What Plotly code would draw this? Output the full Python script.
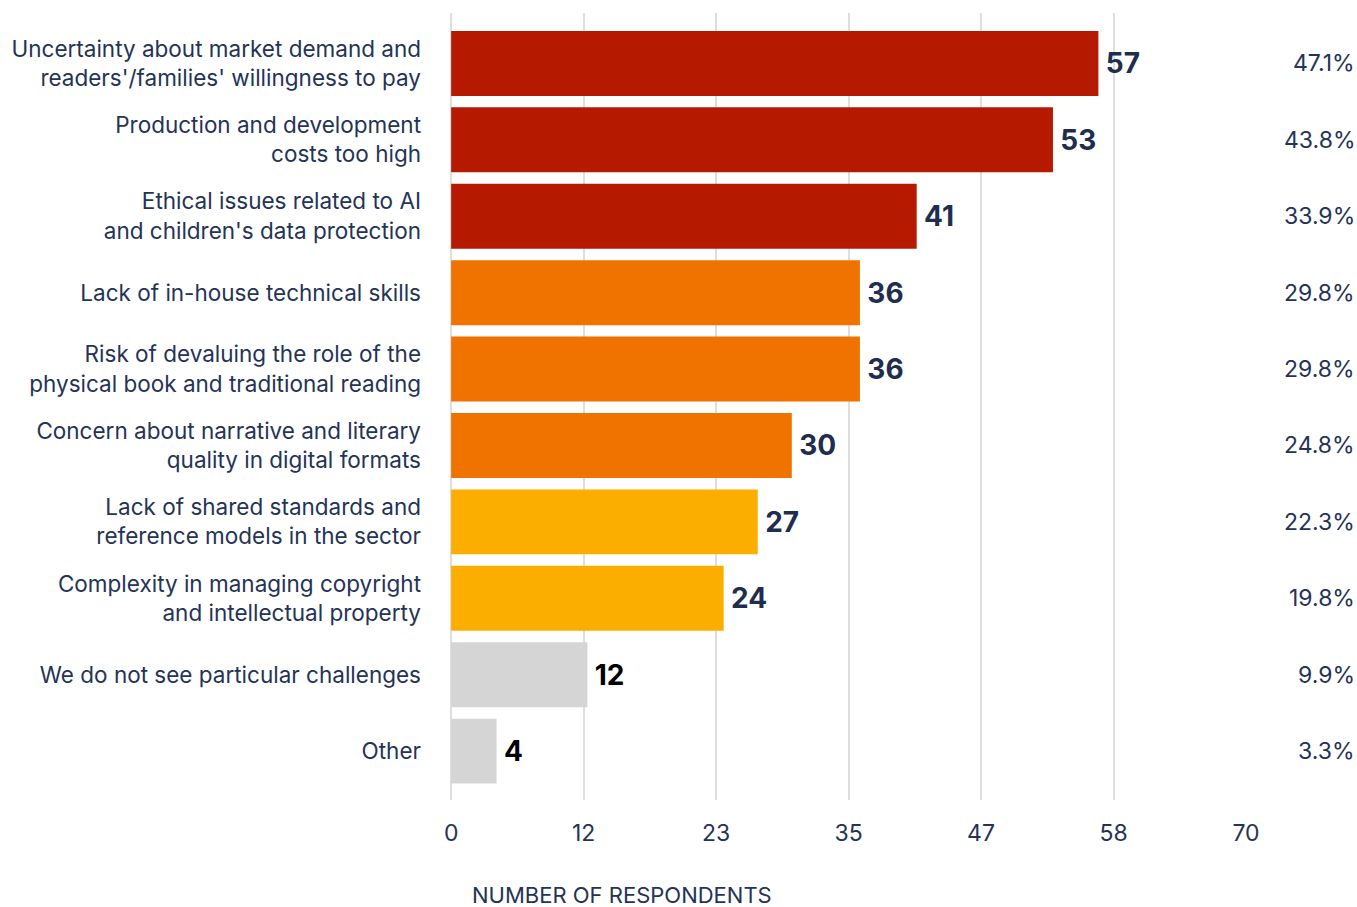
import plotly.graph_objects as go

# Survey: main challenges (number of respondents, multiple answers allowed)
categories = [
    "Uncertainty about market demand and<br>readers'/families' willingness to pay",
    "Production and development<br>costs too high",
    "Ethical issues related to AI<br>and children's data protection",
    "Lack of in-house technical skills",
    "Risk of devaluing the role of the<br>physical book and traditional reading",
    "Concern about narrative and literary<br>quality in digital formats",
    "Lack of shared standards and<br>reference models in the sector",
    "Complexity in managing copyright<br>and intellectual property",
    "We do not see particular challenges",
    "Other",
]
respondents = [57, 53, 41, 36, 36, 30, 27, 24, 12, 4]
share_pct = [47.1, 43.8, 33.9, 29.8, 29.8, 24.8, 22.3, 19.8, 9.9, 3.3]
tier = ["high", "high", "high", "mid", "mid", "mid", "low", "low", "none", "none"]

tick_vals = [0, 70 / 6, 140 / 6, 35, 280 / 6, 350 / 6, 70]
tick_text = ["0", "12", "23", "35", "47", "58", "70"]

BAR_COLORS = {"high": "#B51A00", "mid": "#F07300", "low": "#FBAE00", "none": "#D5D5D5"}
LABEL_COLORS = {"high": "#1F2D4F", "mid": "#1F2D4F", "low": "#1F2D4F", "none": "#000000"}
NAVY = "#243356"
FONT = "Inter, Lato, sans-serif"

y_pos = list(range(len(categories)))

fig = go.Figure()
fig.add_trace(go.Bar(
    x=respondents,
    y=y_pos,
    orientation="h",
    marker=dict(color=[BAR_COLORS[t] for t in tier], line=dict(width=0)),
    text=[str(v) for v in respondents],
    texttemplate="\u2009%{text}",
    textposition="outside",
    textfont=dict(family=FONT, size=28, color=[LABEL_COLORS[t] for t in tier], weight="bold"),
    cliponaxis=False,
    width=0.85,
    hoverinfo="skip",
))

# Percentage of respondents, right-hand column
for yi, p in zip(y_pos, share_pct):
    fig.add_annotation(
        x=1.1395, xref="paper", y=yi, yref="y",
        text=f"{p:.1f}%", showarrow=False, xanchor="right", yanchor="middle",
        font=dict(family=FONT, size=23, color=NAVY),
    )

fig.add_annotation(
    x=(622 - 450) / 796, xref="paper", y=(800 - 895) / 787, yref="paper",
    text="NUMBER OF RESPONDENTS", showarrow=False, xanchor="center", yanchor="middle",
    font=dict(family=FONT, size=22, color=NAVY),
)

fig.update_xaxes(
    range=[-0.1, 70], tickvals=tick_vals, ticktext=tick_text,
    showgrid=True, gridcolor="#DEDEDE", gridwidth=1.5,
    zeroline=False, showline=False,
    tickfont=dict(family=FONT, size=23, color=NAVY),
    ticklabelstandoff=17,
)
fig.update_yaxes(
    tickvals=y_pos, ticktext=categories,
    range=[len(categories) - 0.5 + 0.14, -0.5 - 0.16],
    showgrid=False, zeroline=False, showline=False,
    tickfont=dict(family=FONT, size=22.5, color=NAVY),
    ticklabelstandoff=28,
)

fig.update_layout(
    width=1357, height=907,
    margin=dict(l=450, r=111, t=13, b=107),
    plot_bgcolor="white", paper_bgcolor="white",
    showlegend=False,
    bargap=0.15,
)

fig.write_html("out.html")
